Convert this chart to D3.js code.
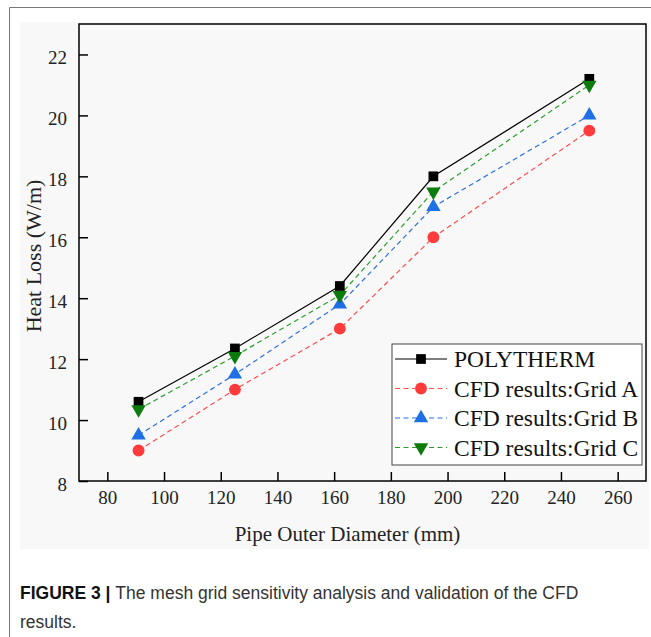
<!DOCTYPE html>
<html>
<head>
<meta charset="utf-8">
<script src="https://cdn.jsdelivr.net/npm/d3@7"></script>
<style>
  body { margin: 0; background: #fff; }
  svg { display: block; }
</style>
</head>
<body>
<div id="chart"></div>
<script>
// data
var diameters = [91, 125, 162, 195, 250];
var polytherm = [10.6, 12.35, 14.4, 18.0, 21.2];
var gridA = [9.0, 11.0, 13.0, 16.0, 19.5];
var gridB = [9.5, 11.5, 13.8, 17.0, 20.0];
var gridC = [10.35, 12.1, 14.1, 17.5, 21.0];
var seriesNames = ["POLYTHERM", "CFD results:Grid A", "CFD results:Grid B", "CFD results:Grid C"];
var xTicks = [80, 100, 120, 140, 160, 180, 200, 220, 240, 260];
var yTicks = [8, 10, 12, 14, 16, 18, 20, 22];

var svgWidth = 651, svgHeight = 637;
var margin = { top: 24, left: 79, right: 5, bottom: 156 };
var width = svgWidth - margin.left - margin.right;   // 567
var height = svgHeight - margin.top - margin.bottom; // 457

var svg = d3.select("#chart").append("svg")
    .attr("width", svgWidth)
    .attr("height", svgHeight);

// page frame and figure panel
svg.append("path")
    .attr("d", "M9.5,637 V7.5 H651")
    .attr("fill", "none")
    .attr("stroke", "#777")
    .attr("stroke-width", 1);
svg.append("rect")
    .attr("x", 20).attr("y", 22)
    .attr("width", 629).attr("height", 527)
    .attr("fill", "#f8f8f8");

var chart = svg.append("g")
    .attr("transform", "translate(" + margin.left + "," + margin.top + ")");

var x = d3.scaleLinear().domain([70, 270]).range([0, width]);
var y = d3.scaleLinear().domain([8, 23]).range([height, 0]);

var font = "'Liberation Serif', 'Times New Roman', serif";

chart.append("rect")
    .attr("width", width).attr("height", height)
    .attr("fill", "none")
    .attr("stroke", "#000")
    .attr("stroke-width", 1.5);

var xAxis = d3.axisBottom(x).tickValues(xTicks).tickSize(-9).tickPadding(10);
var yAxis = d3.axisLeft(y).tickValues(yTicks).tickSize(-9).tickPadding(12);

var gx = chart.append("g")
    .attr("transform", "translate(0," + height + ")")
    .call(xAxis);
var gy = chart.append("g").call(yAxis);

[gx, gy].forEach(function (g) {
    g.select(".domain").remove();
    g.selectAll(".tick line").attr("stroke", "#000").attr("stroke-width", 1.5);
    g.selectAll(".tick text")
        .attr("fill", "#222")
        .style("font-family", font)
        .style("font-size", "19px");
});
gy.selectAll(".tick text").attr("dy", "0.5em");

// axis titles
chart.append("text")
    .attr("x", width / 2 - 15)
    .attr("y", height + 60)
    .attr("text-anchor", "middle")
    .style("font-family", font)
    .style("font-size", "21px")
    .attr("fill", "#222")
    .text("Pipe Outer Diameter (mm)");

chart.append("text")
    .attr("transform", "rotate(-90)")
    .attr("x", -(232))
    .attr("y", -38)
    .attr("text-anchor", "middle")
    .style("font-family", font)
    .style("font-size", "22px")
    .attr("fill", "#222")
    .text("Heat Loss (W/m)");

var series = [
    { name: seriesNames[0], values: polytherm, line: "#000", fill: "#000", dash: null, shape: d3.symbolSquare, size: 95, rot: 0 },
    { name: seriesNames[1], values: gridA, line: "#ff4d4d", fill: "#ff3b3b", dash: "5,3.5", shape: d3.symbolCircle, size: 110, rot: 0 },
    { name: seriesNames[2], values: gridB, line: "#2f6fe0", fill: "#1f6fe6", dash: "5,3.5", shape: d3.symbolTriangle, size: 90, rot: 0 },
    { name: seriesNames[3], values: gridC, line: "#2e9e2e", fill: "#0c7a0c", dash: "5,3.5", shape: d3.symbolTriangle, size: 90, rot: 180 }
];

var line = d3.line()
    .x(function (d) { return x(d.x); })
    .y(function (d) { return y(d.y); });

series.forEach(function (s) {
    var pts = diameters.map(function (d, i) { return { x: d, y: s.values[i] }; });
    chart.append("path")
        .datum(pts)
        .attr("fill", "none")
        .attr("stroke", s.line)
        .attr("stroke-width", 1.2)
        .attr("stroke-dasharray", s.dash)
        .attr("d", line);
});

series.forEach(function (s) {
    var pts = diameters.map(function (d, i) { return { x: d, y: s.values[i] }; });
    chart.selectAll(null)
        .data(pts)
        .enter()
        .append("path")
        .attr("d", d3.symbol().type(s.shape).size(s.size))
        .attr("transform", function (d) {
            return "translate(" + x(d.x) + "," + y(d.y) + ") rotate(" + s.rot + ")";
        })
        .attr("fill", s.fill);
});

// legend
var lgX = 392 - margin.left, lgY = 344 - margin.top;
var legend = chart.append("g").attr("transform", "translate(" + lgX + "," + lgY + ")");
legend.append("rect")
    .attr("width", 250).attr("height", 121)
    .attr("fill", "#fff")
    .attr("stroke", "#444")
    .attr("stroke-width", 1);

series.forEach(function (s, i) {
    var ry = 15 + i * 29.5;
    legend.append("line")
        .attr("x1", 3).attr("x2", 55)
        .attr("y1", ry).attr("y2", ry)
        .attr("stroke", s.line)
        .attr("stroke-width", 1.2)
        .attr("stroke-dasharray", s.dash);
    legend.append("path")
        .attr("d", d3.symbol().type(s.shape).size(s.size))
        .attr("transform", "translate(29," + ry + ") rotate(" + s.rot + ")")
        .attr("fill", s.fill);
    legend.append("text")
        .attr("x", 62)
        .attr("y", ry)
        .attr("dy", "0.36em")
        .style("font-family", font)
        .style("font-size", "23.5px")
        .attr("fill", "#111")
        .text(s.name);
});

// caption
var capFont = "'Liberation Sans', Arial, sans-serif";
var cap = svg.append("text")
    .attr("x", 20)
    .attr("y", 599)
    .style("font-family", capFont)
    .style("font-size", "17.5px")
    .attr("fill", "#333");
cap.append("tspan").style("font-weight", "bold").attr("fill", "#111").text("FIGURE 3 | ");
cap.append("tspan").text("The mesh grid sensitivity analysis and validation of the CFD");
svg.append("text")
    .attr("x", 20)
    .attr("y", 628)
    .style("font-family", capFont)
    .style("font-size", "17.5px")
    .attr("fill", "#333")
    .text("results.");
</script>
</body>
</html>
